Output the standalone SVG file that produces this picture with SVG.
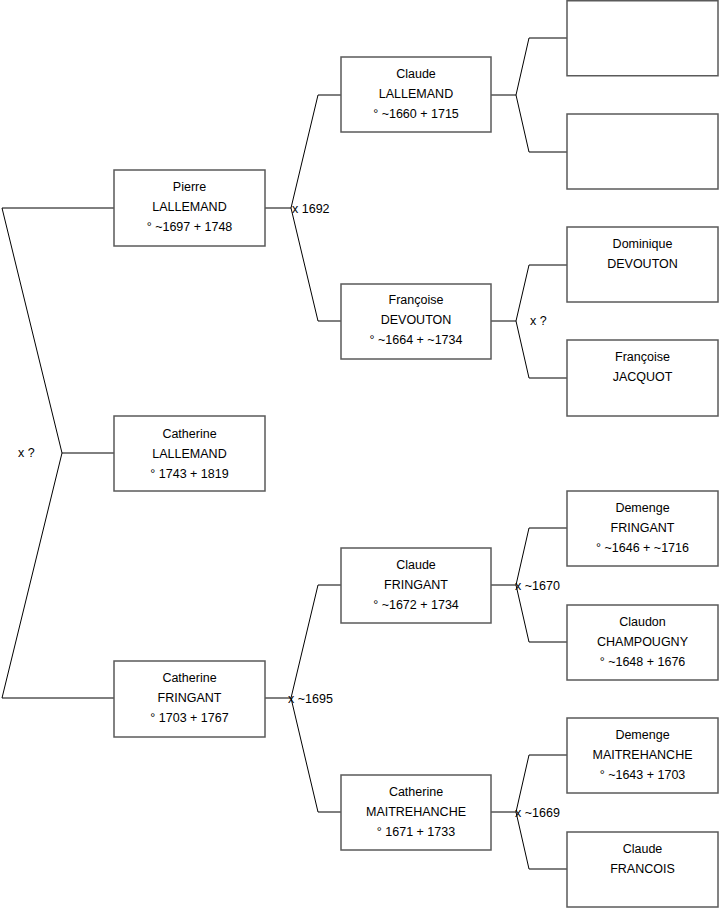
<svg xmlns="http://www.w3.org/2000/svg" width="719" height="908" viewBox="0 0 719 908">
<style>
.box{fill:#fff;stroke:#5a5a5a;stroke-width:1.5}
.ln{fill:none;stroke:#000;stroke-width:1}
text{font-family:"Liberation Sans",Arial,sans-serif;font-size:12.5px;fill:#000}
.c{text-anchor:middle}
</style>
<rect width="719" height="908" fill="#fff"/>
<g id="connectors">
<polyline class="ln" points="114,208 2,208 62,453 2,698 114,698"/>
<line class="ln" x1="62" y1="453" x2="114" y2="453"/>
<polyline class="ln" points="341,95 318,95 291,208 318,321 341,321"/>
<line class="ln" x1="265" y1="208" x2="291" y2="208"/>
<polyline class="ln" points="341,585 318,585 291,698 318,812 341,812"/>
<line class="ln" x1="265" y1="698" x2="291" y2="698"/>
<polyline class="ln" points="567,38 529,38 516,95 529,152 567,152"/>
<line class="ln" x1="491" y1="95" x2="516" y2="95"/>
<polyline class="ln" points="567,265 529,265 516,321 529,378 567,378"/>
<line class="ln" x1="491" y1="321" x2="516" y2="321"/>
<polyline class="ln" points="567,528 529,528 516,585 529,642 567,642"/>
<line class="ln" x1="491" y1="585" x2="516" y2="585"/>
<polyline class="ln" points="567,755 529,755 516,812 529,869 567,869"/>
<line class="ln" x1="491" y1="812" x2="516" y2="812"/>
<text x="18" y="457">x ?</text>
<text x="292" y="213">x 1692</text>
<text x="288" y="703">x ~1695</text>
<text x="530" y="325">x ?</text>
<text x="515" y="590">x ~1670</text>
<text x="515" y="817">x ~1669</text>
</g>
<g id="n-catherine-lallemand"><rect class="box" x="114" y="416" width="151" height="75"/>
<text class="c" x="189.5" y="438">Catherine</text><text class="c" x="189.5" y="458">LALLEMAND</text><text class="c" x="189.5" y="478">° 1743 + 1819</text></g>
<g id="n-pierre-lallemand"><rect class="box" x="114" y="170" width="151" height="76"/>
<text class="c" x="189.5" y="191">Pierre</text><text class="c" x="189.5" y="211">LALLEMAND</text><text class="c" x="189.5" y="231">° ~1697 + 1748</text></g>
<g id="n-catherine-fringant"><rect class="box" x="114" y="661" width="151" height="76"/>
<text class="c" x="189.5" y="682">Catherine</text><text class="c" x="189.5" y="702">FRINGANT</text><text class="c" x="189.5" y="722">° 1703 + 1767</text></g>
<g id="n-claude-lallemand"><rect class="box" x="341" y="57" width="150" height="75"/>
<text class="c" x="416" y="78">Claude</text><text class="c" x="416" y="98">LALLEMAND</text><text class="c" x="416" y="118">° ~1660 + 1715</text></g>
<g id="n-francoise-devouton"><rect class="box" x="341" y="284" width="150" height="75"/>
<text class="c" x="416" y="304">Françoise</text><text class="c" x="416" y="324">DEVOUTON</text><text class="c" x="416" y="344">° ~1664 + ~1734</text></g>
<g id="n-claude-fringant"><rect class="box" x="341" y="548" width="150" height="75"/>
<text class="c" x="416" y="569">Claude</text><text class="c" x="416" y="589">FRINGANT</text><text class="c" x="416" y="609">° ~1672 + 1734</text></g>
<g id="n-catherine-maitrehanche"><rect class="box" x="341" y="775" width="150" height="75"/>
<text class="c" x="416" y="796">Catherine</text><text class="c" x="416" y="816">MAITREHANCHE</text><text class="c" x="416" y="836">° 1671 + 1733</text></g>
<g id="n-empty1"><rect class="box" x="567" y="0.75" width="151" height="75"/></g>
<g id="n-empty2"><rect class="box" x="567" y="114" width="151" height="75"/></g>
<g id="n-dominique-devouton"><rect class="box" x="567" y="227" width="151" height="75"/>
<text class="c" x="642.5" y="248">Dominique</text><text class="c" x="642.5" y="268">DEVOUTON</text></g>
<g id="n-francoise-jacquot"><rect class="box" x="567" y="340" width="151" height="76"/>
<text class="c" x="642.5" y="361">Françoise</text><text class="c" x="642.5" y="381">JACQUOT</text></g>
<g id="n-demenge-fringant"><rect class="box" x="567" y="491" width="151" height="75"/>
<text class="c" x="642.5" y="512">Demenge</text><text class="c" x="642.5" y="532">FRINGANT</text><text class="c" x="642.5" y="552">° ~1646 + ~1716</text></g>
<g id="n-claudon-champougny"><rect class="box" x="567" y="605" width="151" height="75"/>
<text class="c" x="642.5" y="626">Claudon</text><text class="c" x="642.5" y="646">CHAMPOUGNY</text><text class="c" x="642.5" y="666">° ~1648 + 1676</text></g>
<g id="n-demenge-maitrehanche"><rect class="box" x="567" y="718" width="151" height="75"/>
<text class="c" x="642.5" y="739">Demenge</text><text class="c" x="642.5" y="759">MAITREHANCHE</text><text class="c" x="642.5" y="779">° ~1643 + 1703</text></g>
<g id="n-claude-francois"><rect class="box" x="567" y="832" width="151" height="75"/>
<text class="c" x="642.5" y="853">Claude</text><text class="c" x="642.5" y="873">FRANCOIS</text></g>
</svg>
